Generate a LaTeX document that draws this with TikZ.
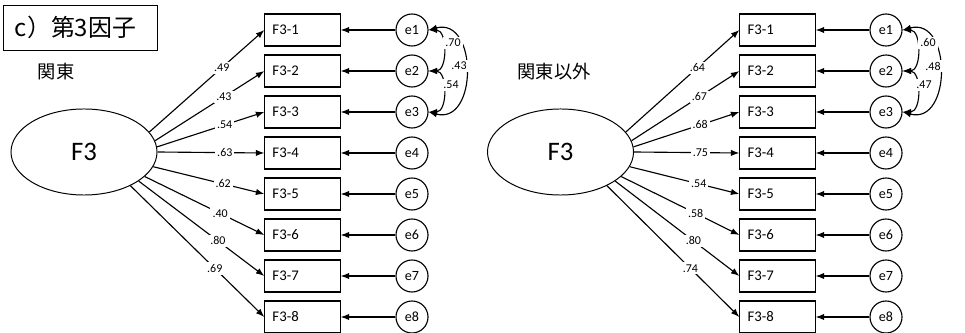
\documentclass[tikz,border=0pt]{standalone}
\usepackage{fontspec}
\setmainfont{Carlito}
\newfontfamily\jpfont{Noto Sans CJK JP}
\usetikzlibrary{arrows.meta,shapes.geometric}

\begin{document}
\begin{tikzpicture}[
  x=0.025cm, y=-0.025cm,
  line width=0.8pt,
  every node/.style={inner sep=1pt},
  item/.style={draw, rectangle, minimum width=1.875cm, minimum height=0.8cm,
    text width=1.5cm, align=left, inner xsep=0.19cm, font=\fontsize{10.5}{12}\selectfont},
  err/.style={draw, circle, minimum size=0.8cm, inner sep=0pt, font=\fontsize{10}{12}\selectfont},
  factor/.style={draw, ellipse, minimum width=3.65cm, minimum height=2.15cm,
    line width=0.7pt, font=\fontsize{19}{21}\selectfont},
  load/.style={-{Latex[length=6pt,width=4.5pt]}},
  cov/.style={{Latex[length=6pt,width=4.5pt]}-{Latex[length=6pt,width=4.5pt]}},
  coef/.style={fill=white, inner sep=1.5pt, font=\fontsize{8.5}{10}\selectfont},
  group/.style={font=\jpfont\fontsize{13}{15}\selectfont}
]
\useasboundingbox (0,0) rectangle (965,333);

% title
\node[draw, line width=0.6pt, minimum width=3.85cm, minimum height=1.125cm,
  text width=3.25cm, align=left, inner xsep=0.3cm,
  font=\jpfont\fontsize{17}{19}\selectfont] (title) at (80,27.5) {c）第3因子};

% Kanto
\node[group] (grpL) at (56,72) {関東};
\node[factor] (F3L) at (84,152) {F3};
\foreach \i/\ang/\c in {1/17/.49,2/9/.43,3/4/.54,4/0/.63,5/-12/.62,6/-22/.40,7/-28/.80,8/-36/.69}{
  \node[item] (L\i) at (302.5,{30+41*(\i-1)}) {F3-\i};
  \node[err] (eL\i) at (412,{30+41*(\i-1)}) {e\i};
  \draw[load] (eL\i) -- (L\i);
  \draw[load] (F3L.\ang) -- node[coef,pos=0.63] (cL\i) {\c} (L\i.west);
}
\draw[cov] (eL1.east) to[out=0,in=0,looseness=1.2] (eL2.east);
\draw[cov] (eL2.east) to[out=0,in=0,looseness=1.2] (eL3.east);
\draw[cov] (eL1.east) to[out=15,in=-15,looseness=1.6] (eL3.east);
\node[coef] (vL12) at (453,43) {.70};
\node[coef] (vL13) at (459,66) {.43};
\node[coef] (vL23) at (451,85) {.54};

% outside Kanto
\node[group] (grpR) at (554,72) {関東以外};
\node[factor] (F3R) at (560.5,152) {F3};
\foreach \i/\ang/\c in {1/17/.64,2/9/.67,3/4/.68,4/0/.75,5/-12/.54,6/-22/.58,7/-28/.80,8/-36/.74}{
  \node[item] (R\i) at (777.5,{30+41*(\i-1)}) {F3-\i};
  \node[err] (eR\i) at (886,{30+41*(\i-1)}) {e\i};
  \draw[load] (eR\i) -- (R\i);
  \draw[load] (F3R.\ang) -- node[coef,pos=0.63] (cR\i) {\c} (R\i.west);
}
\draw[cov] (eR1.east) to[out=0,in=0,looseness=1.2] (eR2.east);
\draw[cov] (eR2.east) to[out=0,in=0,looseness=1.2] (eR3.east);
\draw[cov] (eR1.east) to[out=15,in=-15,looseness=1.6] (eR3.east);
\node[coef] (vR12) at (928,43) {.60};
\node[coef] (vR13) at (933,66) {.48};
\node[coef] (vR23) at (924,85) {.47};
\end{tikzpicture}
\end{document}
